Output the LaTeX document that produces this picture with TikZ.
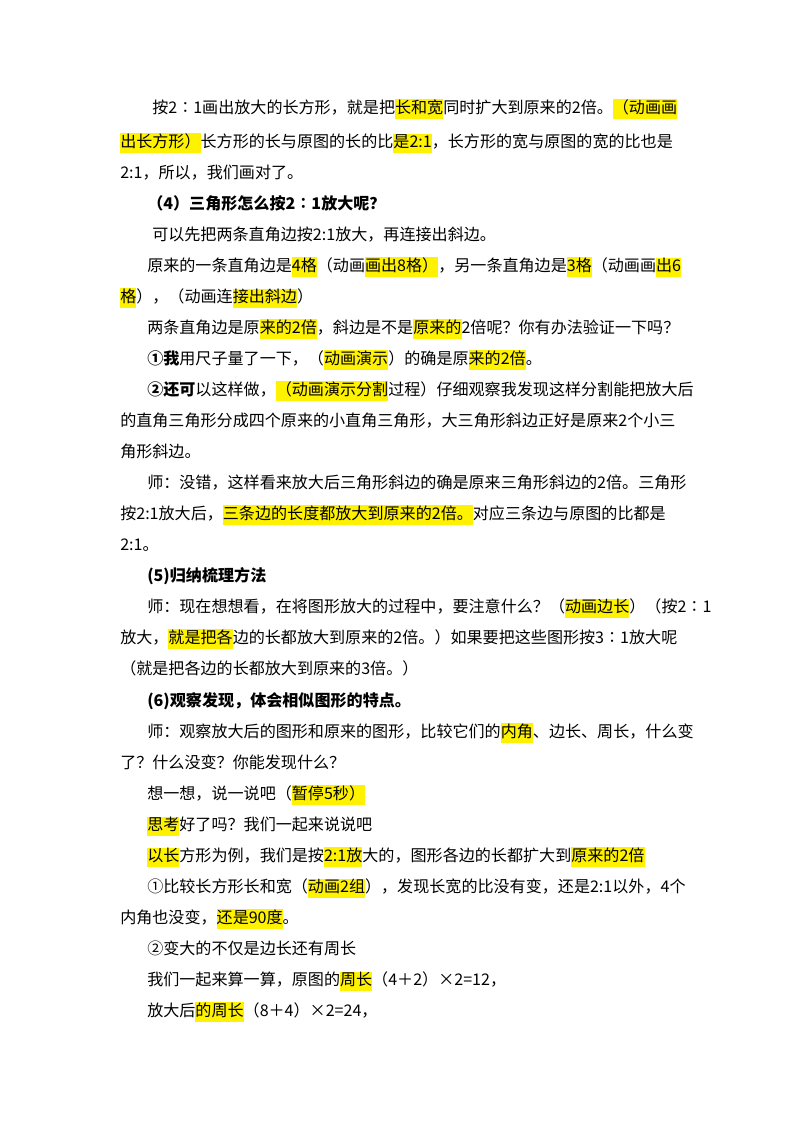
\documentclass[tikz,border=0pt]{standalone}
\usepackage{fontspec}
\setmainfont{Noto Sans CJK SC}
\newcommand{\hlt}[1]{{\setlength{\fboxsep}{0pt}\colorbox{yellow}{\strut #1}}}
\begin{document}
\begin{tikzpicture}[x=0.02625cm, y=-0.02625cm]
\tikzstyle{txt} = [anchor=base west, inner sep=0pt, font=\fontsize{12pt}{14pt}\selectfont]
\tikzstyle{head} = [txt, font=\fontsize{12pt}{14pt}\selectfont\bfseries]
\useasboundingbox[fill=white] (0,0) rectangle (800,1132);
\node[txt] at (152, 113) (l1) {按2∶1画出放大的长方形，就是把\hlt{长和宽}同时扩大到原来的2倍。\hlt{（动画画}};
\node[txt] at (120, 147) (l2) {\hlt{出长方形）}长方形的长与原图的长的比\hlt{是2:1}，长方形的宽与原图的宽的比也是};
\node[txt] at (120, 178) (l3) {2:1，所以，我们画对了。};
\node[head] at (147, 209) (l4) {（4）三角形怎么按2∶1放大呢？};
\node[txt] at (152, 240) (l5) {可以先把两条直角边按2:1放大，再连接出斜边。};
\node[txt] at (147, 271) (l6) {原来的一条直角边是\hlt{4格}（动画\hlt{画出8格）}，另一条直角边是\hlt{3格}（动画画\hlt{出6}};
\node[txt] at (120, 302) (l7) {\hlt{格}），（动画连\hlt{接出斜边}）};
\node[txt] at (147, 333) (l8) {两条直角边是原\hlt{来的2倍}，斜边是不是\hlt{原来的}2倍呢？你有办法验证一下吗？};
\node[txt] at (147, 364) (l9) {\textbf{①我}用尺子量了一下，（\hlt{动画演示}）的确是原\hlt{来的2倍}。};
\node[txt] at (147, 395) (l10) {\textbf{②还可}以这样做，\hlt{（动画演示分割}过程）仔细观察我发现这样分割能把放大后};
\node[txt] at (120, 426) (l11) {的直角三角形分成四个原来的小直角三角形，大三角形斜边正好是原来2个小三};
\node[txt] at (120, 457) (l12) {角形斜边。};
\node[txt] at (147, 488) (l13) {师：没错，这样看来放大后三角形斜边的确是原来三角形斜边的2倍。三角形};
\node[txt] at (120, 519) (l14) {按2:1放大后，\hlt{三条边的长度都放大到原来的2倍。}对应三条边与原图的比都是};
\node[txt] at (120, 550) (l15) {2:1。};
\node[head] at (147, 581) (l16) {(5)归纳梳理方法};
\node[txt] at (147, 612) (l17) {师：现在想想看，在将图形放大的过程中，要注意什么？（\hlt{动画边长}）（按2∶1};
\node[txt] at (120, 643) (l18) {放大，\hlt{就是把各}边的长都放大到原来的2倍。）如果要把这些图形按3∶1放大呢};
\node[txt] at (120, 674) (l19) {（就是把各边的长都放大到原来的3倍。）};
\node[head] at (147, 706) (l20) {(6)观察发现，体会相似图形的特点。};
\node[txt] at (147, 737) (l21) {师：观察放大后的图形和原来的图形，比较它们的\hlt{内角}、边长、周长，什么变};
\node[txt] at (120, 768) (l22) {了？什么没变？你能发现什么？};
\node[txt] at (147, 799) (l23) {想一想，说一说吧（\hlt{暂停5秒）}};
\node[txt] at (147, 830) (l24) {\hlt{思考}好了吗？我们一起来说说吧};
\node[txt] at (147, 861) (l25) {\hlt{以长}方形为例，我们是按\hlt{2:1放}大的，图形各边的长都扩大到\hlt{原来的2倍}};
\node[txt] at (147, 892) (l26) {①比较长方形长和宽（\hlt{动画2组}），发现长宽的比没有变，还是2:1以外，4个};
\node[txt] at (120, 923) (l27) {内角也没变，\hlt{还是90度}。};
\node[txt] at (147, 954) (l28) {②变大的不仅是边长还有周长};
\node[txt] at (147, 985) (l29) {我们一起来算一算，原图的\hlt{周长}（4＋2）×2=12，};
\node[txt] at (147, 1016) (l30) {放大后\hlt{的周长}（8＋4）×2=24，};
\end{tikzpicture}
\end{document}
